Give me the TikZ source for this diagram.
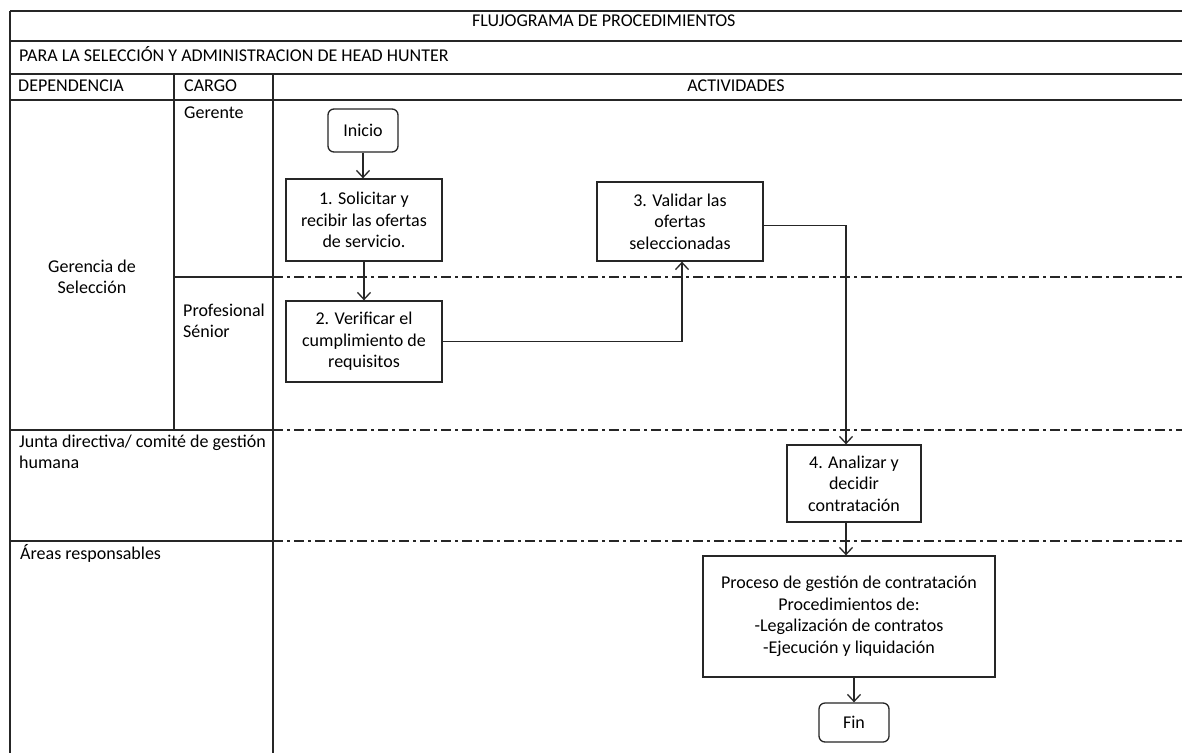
\documentclass[tikz,border=0pt]{standalone}
\usepackage{fontspec}
\setmainfont{Carlito}
\usetikzlibrary{arrows.meta}
\newcommand{\flowtxt}{\fontsize{18}{21.5}\selectfont}
\begin{document}
\begin{tikzpicture}[x=1pt,y=-1pt,
 frame/.style={line width=1.3pt, black!85},
 lane/.style={line width=1.3pt, black!85, dash pattern=on 10pt off 4pt on 3pt off 4pt},
 box/.style={draw=black!85, line width=1.3pt, align=center, inner sep=0pt, font=\flowtxt},
 term/.style={box, rounded corners=6pt},
 lbl/.style={inner sep=0pt, font=\flowtxt, anchor=west, align=left},
 flow/.style={line width=1.3pt, black!85, -{Straight Barb[length=7pt,width=13pt]}}
]
\useasboundingbox (0,0) rectangle (1182,753);
\fill[white] (0,0) rectangle (1182,753);
% table frame
\draw[frame] (10,11) -- (1182,11);
\draw[frame] (10,41) -- (1182,41);
\draw[frame] (10,74) -- (1182,74);
\draw[frame] (10,100) -- (1182,100);
\draw[frame] (10,11) -- (10,753);
\draw[frame] (174,74) -- (174,430);
\draw[frame] (273,74) -- (273,753);
\draw[frame] (174,277) -- (273,277);
\draw[frame] (10,430) -- (273,430);
\draw[frame] (10,541) -- (273,541);
\draw[lane] (273,277) -- (1182,277);
\draw[lane] (273,430) -- (1182,430);
\draw[lane] (273,541) -- (1182,541);
% header texts
\node[lbl] (title) at (472,21) {FLUJOGRAMA DE PROCEDIMIENTOS};
\node[lbl] (sub) at (19,54) {PARA LA SELECCIÓN Y ADMINISTRACION DE HEAD HUNTER};
\node[lbl] (hdep) at (18,86) {DEPENDENCIA};
\node[lbl] (hcar) at (184,86) {CARGO};
\node[inner sep=0pt, font=\flowtxt] (hact) at (736,86) {ACTIVIDADES};
% lane labels
\node[inner sep=0pt, font=\flowtxt, align=center] (ger) at (92,277) {Gerencia de\\Selección};
\node[lbl] (gte) at (184,113) {Gerente};
\node[lbl] (prof) at (183,321) {Profesional\\Sénior};
\node[lbl] (junta) at (19,452) {Junta directiva/ comité de gestión\\humana};
\node[lbl] (areas) at (20,553) {Áreas responsables};
% flow nodes
\node[term, minimum width=70pt, minimum height=43pt] (inicio) at (363,130.5) {Inicio};
\node[box, minimum width=156pt, minimum height=82pt] (n1) at (364,220) {1. Solicitar y\\recibir las ofertas\\de servicio.};
\node[box, minimum width=156pt, minimum height=81pt] (n2) at (364,341.5) {2. Verificar el\\cumplimiento de\\requisitos};
\node[box, minimum width=166pt, minimum height=79pt] (n3) at (680,221.5) {3. Validar las\\ofertas\\seleccionadas};
\node[box, minimum width=134pt, minimum height=77pt] (n4) at (854,483.5) {4. Analizar y\\decidir\\contratación};
\node[box, minimum width=292pt, minimum height=121pt] (proc) at (849,616.5) {Proceso de gestión de contratación\\Procedimientos de:\\-Legalización de contratos\\-Ejecución y liquidación};
\node[term, minimum width=70pt, minimum height=39pt] (fin) at (854,722.5) {Fin};
% connectors
\draw[flow] (inicio.south) -- (inicio.south |- n1.north);
\draw[flow] (n1.south) -- (n2.north);
\draw[flow] (n2.east) -| ([xshift=2pt]n3.south);
\draw[flow] ([yshift=-4pt]n3.east) -| ([xshift=-8pt]n4.north);
\draw[flow] ([xshift=-8pt]n4.south) -- ([xshift=-8pt]n4.south |- proc.north);
\draw[flow] (fin.north |- proc.south) -- (fin.north);
\end{tikzpicture}
\end{document}
